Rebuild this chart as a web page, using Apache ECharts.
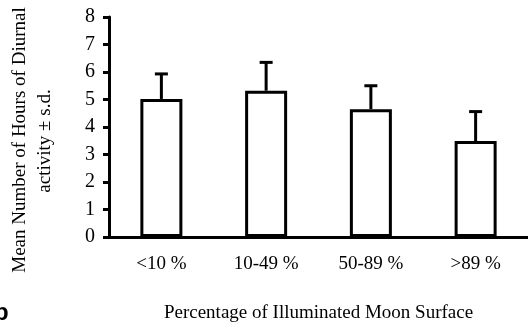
<!DOCTYPE html>
<html>
<head>
<meta charset="utf-8">
<script src="https://cdn.jsdelivr.net/npm/echarts@6/dist/echarts.min.js"></script>
<style>html,body{margin:0;padding:0;background:#fff}#c{width:528px;height:326px}</style>
</head>
<body>
<div id="c"></div>
<script>
const categories = ['<10 %', '10-49 %', '50-89 %', '>89 %'];
const means = [5.02, 5.32, 4.65, 3.49];
const upperSD = [5.93, 6.35, 5.50, 4.56];
const yTicks = [0, 1, 2, 3, 4, 5, 6, 7, 8];

const font = '"Liberation Serif", "Times New Roman", serif';
const chart = echarts.init(document.getElementById('c'));
chart.setOption({
  animation: false,
  backgroundColor: '#fff',
  grid: { left: 109, right: 0, top: 17, bottom: 89, containLabel: false, outerBoundsMode: 'none' },
  xAxis: {
    type: 'category',
    data: categories,
    name: 'Percentage of Illuminated Moon Surface',
    nameLocation: 'middle',
    nameGap: 67,
    nameTextStyle: { fontFamily: font, fontSize: 19, color: '#000' },
    axisLine: { lineStyle: { color: '#000', width: 3 } },
    axisTick: { inside: true, length: 7, lineStyle: { color: '#000', width: 3 }, interval: 0 },
    axisLabel: { fontFamily: font, fontSize: 19, color: '#000', margin: 18, interval: 0 },
    splitLine: { show: false }
  },
  yAxis: {
    type: 'value',
    min: yTicks[0],
    max: yTicks[yTicks.length - 1],
    interval: 1,
    axisLine: { show: true, lineStyle: { color: '#000', width: 3 } },
    axisTick: { show: true, length: 6, lineStyle: { color: '#000', width: 3 } },
    axisLabel: { fontFamily: font, fontSize: 20, color: '#000', margin: 14 },
    splitLine: { show: false }
  },
  graphic: [
    { type: 'text', x: 20, y: 140, rotation: Math.PI / 2,
      style: { text: 'Mean Number of Hours of Diurnal', font: '19px ' + font, fill: '#000', align: 'center', verticalAlign: 'middle' } },
    { type: 'text', x: 45, y: 141, rotation: Math.PI / 2,
      style: { text: 'activity ± s.d.', font: '19px ' + font, fill: '#000', align: 'center', verticalAlign: 'middle' } },
    { type: 'text', x: -6, y: 301,
      style: { text: 'b', font: 'bold 24px "Liberation Sans", Arial, sans-serif', fill: '#000' } }
  ],
  series: [
    {
      type: 'bar',
      data: means,
      barWidth: 42,
      itemStyle: { color: '#fff', borderColor: '#000', borderWidth: 3 },
      z: 2
    },
    {
      type: 'custom',
      data: categories.map((c, i) => [i, means[i], upperSD[i]]),
      z: 1,
      renderItem: function (params, api) {
        const i = api.value(0);
        const lo = api.coord([i, api.value(1)]);
        const hi = api.coord([i, api.value(2)]);
        const hw = 6.5;
        return {
          type: 'group',
          children: [
            { type: 'line', shape: { x1: lo[0], y1: lo[1], x2: hi[0], y2: hi[1] }, style: { stroke: '#000', lineWidth: 3 } },
            { type: 'line', shape: { x1: hi[0] - hw, y1: hi[1], x2: hi[0] + hw, y2: hi[1] }, style: { stroke: '#000', lineWidth: 3 } }
          ]
        };
      }
    }
  ]
});
</script>
</body>
</html>
